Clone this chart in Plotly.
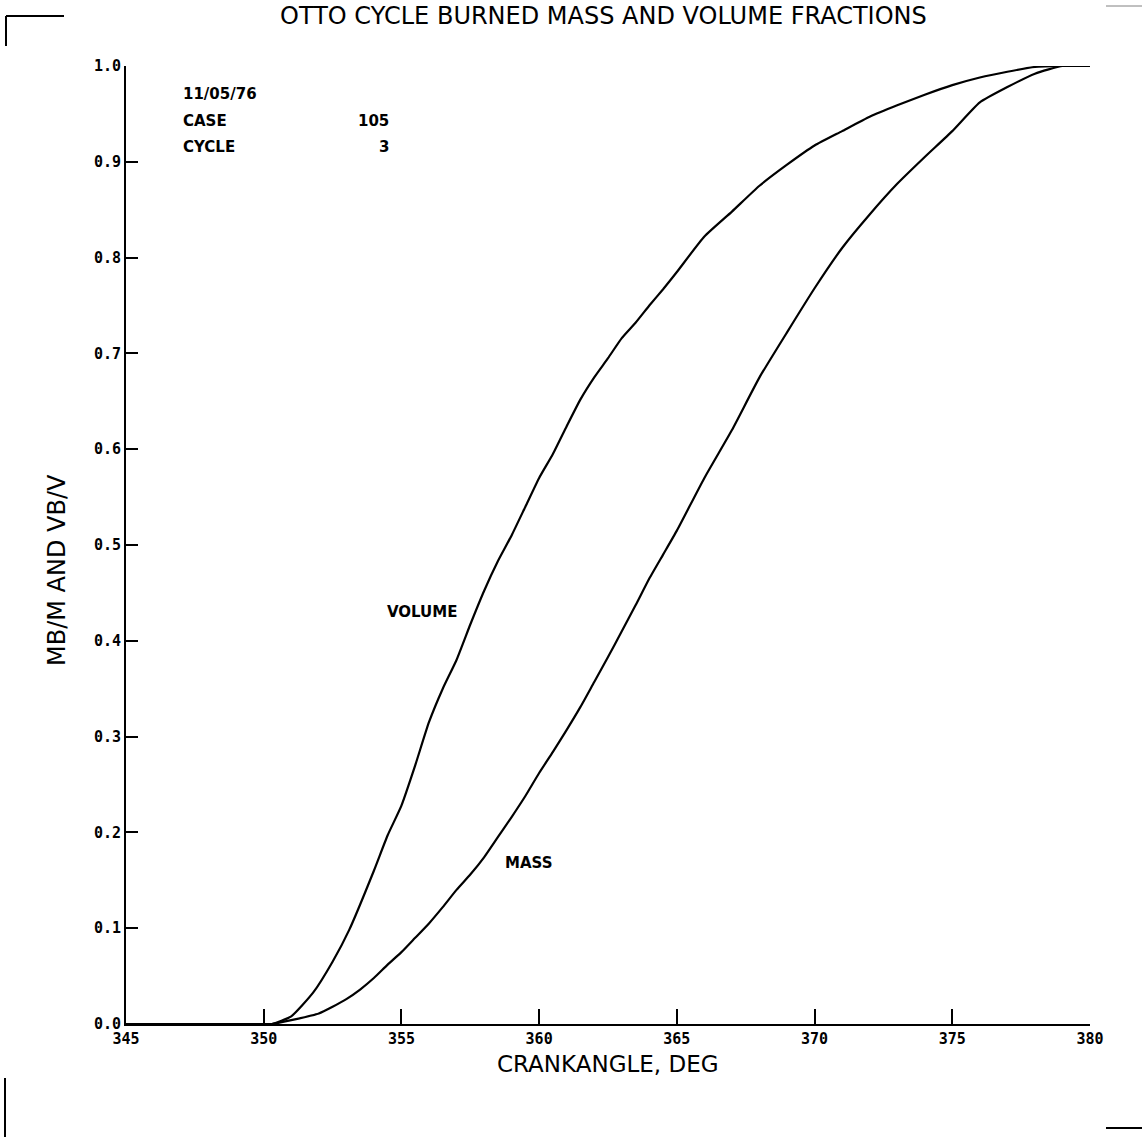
import plotly.graph_objects as go

# ---- data ----
angle_volume = [345, 350, 350.3, 351, 351.8, 352.5, 353.1, 354, 354.5, 355, 355.5, 356, 356.5,
                357, 357.5, 358, 358.5, 359, 359.5, 360, 360.5, 361, 361.5, 362, 362.5, 363,
                363.5, 364, 364.5, 365, 366, 367, 368, 369, 370, 371, 372, 373, 374, 375, 376,
                377, 378, 379, 380]
volume_fraction = [0, 0, 0, 0.008, 0.033, 0.065, 0.098, 0.16, 0.197, 0.228, 0.27, 0.315, 0.35,
                   0.38, 0.417, 0.452, 0.483, 0.51, 0.54, 0.57, 0.595, 0.624, 0.652, 0.675, 0.695,
                   0.716, 0.732, 0.75, 0.767, 0.785, 0.822, 0.848, 0.875, 0.897, 0.917, 0.932,
                   0.947, 0.959, 0.970, 0.980, 0.988, 0.994, 0.999, 1.0, 1.0]

angle_mass = [345, 350, 350.3, 351, 352, 352.5, 353, 353.5, 354, 354.5, 355, 355.5, 356, 356.5,
              357, 357.5, 358, 358.5, 359, 359.5, 360, 360.5, 361, 361.5, 362, 362.5, 363, 363.5,
              364, 364.5, 365, 366, 367, 368, 369, 370, 371, 372, 373, 374, 375, 376, 377, 378,
              379, 380]
mass_fraction = [0, 0, 0, 0.004, 0.011, 0.018, 0.026, 0.036, 0.048, 0.062, 0.075, 0.09, 0.105,
                 0.122, 0.14, 0.156, 0.174, 0.195, 0.216, 0.238, 0.262, 0.284, 0.307, 0.331,
                 0.357, 0.383, 0.41, 0.437, 0.465, 0.49, 0.515, 0.57, 0.62, 0.675, 0.722, 0.768,
                 0.81, 0.845, 0.877, 0.905, 0.932, 0.962, 0.978, 0.992, 1.0, 1.0]

x_ticks = [345, 350, 355, 360, 365, 370, 375, 380]
y_ticks = [0.0, 0.1, 0.2, 0.3, 0.4, 0.5, 0.6, 0.7, 0.8, 0.9, 1.0]

title_text = "OTTO CYCLE BURNED MASS AND VOLUME FRACTIONS"
x_title = "CRANKANGLE, DEG"
y_title = "MB/M AND VB/V"
info_lines = [("11/05/76", ""), ("CASE", "105"), ("CYCLE", "3")]
curve_labels = [("VOLUME", 355.75, 0.43), ("MASS", 359.6, 0.168)]

MONO = "DejaVu Sans Mono"
SANS = "DejaVu Sans"

fig = go.Figure()
fig.add_trace(go.Scatter(x=angle_volume, y=volume_fraction, mode="lines",
                         line=dict(color="black", width=2.2, shape="spline", smoothing=0.5),
                         name="VOLUME", showlegend=False))
fig.add_trace(go.Scatter(x=angle_mass, y=mass_fraction, mode="lines",
                         line=dict(color="black", width=2.2, shape="spline", smoothing=0.5),
                         name="MASS", showlegend=False))

W, H = 1142, 1137
L, R, T, B = 126, 52, 66, 113
PW, PH = W - L - R, H - T - B

def px(xp):
    return (xp - L) / PW

def py(yp):
    return (H - B - yp) / PH

annotations = []
info_y = [94, 121, 147]
for (left, right), yy in zip(info_lines, info_y):
    annotations.append(dict(text=left, x=px(181), y=py(yy), xref="paper", yref="paper",
                            xanchor="left", yanchor="middle", showarrow=False,
                            font=dict(family=SANS, size=15, color="black", weight="bold")))
    if right:
        annotations.append(dict(text=right, x=px(391), y=py(yy), xref="paper", yref="paper",
                                xanchor="right", yanchor="middle", showarrow=False,
                                font=dict(family=SANS, size=15, color="black", weight="bold")))

for txt, xv, yv in curve_labels:
    annotations.append(dict(text=txt, x=xv, y=yv, xref="x", yref="y", showarrow=False,
                            xanchor="center", yanchor="middle",
                            font=dict(family=SANS, size=15, color="black", weight="bold")))

annotations.append(dict(text=x_title, x=px(608), y=py(1064), xref="paper", yref="paper",
                        showarrow=False, xanchor="center", yanchor="middle",
                        font=dict(family=SANS, size=23, color="black")))
annotations.append(dict(text=y_title, x=px(57), y=py(570), xref="paper", yref="paper",
                        showarrow=False, xanchor="center", yanchor="middle", textangle=-90,
                        font=dict(family=SANS, size=24, color="black")))
annotations.append(dict(text=title_text, x=px(603), y=py(16), xref="paper", yref="paper",
                        showarrow=False, xanchor="center", yanchor="middle",
                        font=dict(family=SANS, size=24, color="black")))

# page registration marks of the scanned sheet
shapes = [
    dict(type="line", xref="paper", yref="paper", x0=px(6), y0=py(16), x1=px(64), y1=py(16),
         line=dict(color="black", width=2)),
    dict(type="line", xref="paper", yref="paper", x0=px(6), y0=py(16), x1=px(6), y1=py(46),
         line=dict(color="black", width=2)),
    dict(type="line", xref="paper", yref="paper", x0=px(5), y0=py(1078), x1=px(5), y1=py(1137),
         line=dict(color="black", width=2)),
    dict(type="line", xref="paper", yref="paper", x0=px(1106), y0=py(1128), x1=px(1142), y1=py(1128),
         line=dict(color="black", width=2)),
    dict(type="line", xref="paper", yref="paper", x0=px(1106), y0=py(6), x1=px(1142), y1=py(6),
         line=dict(color="gray", width=1)),
]

fig.update_layout(
    width=W, height=H,
    margin=dict(l=L, r=R, t=T, b=B),
    paper_bgcolor="white", plot_bgcolor="white",
    font=dict(family=SANS, color="black"),
    annotations=annotations,
    shapes=shapes,
    showlegend=False,
)
fig.update_xaxes(range=[345, 380], tickvals=x_ticks, ticktext=[str(v) for v in x_ticks],
                 ticks="inside", ticklen=15, tickwidth=2, tickcolor="black",
                 showline=True, linecolor="black", linewidth=2, showgrid=False, zeroline=False,
                 tickfont=dict(family=MONO, size=15, color="black", weight="bold"))
fig.update_yaxes(range=[0, 1.0], tickvals=y_ticks, ticktext=[f"{v:.1f}" for v in y_ticks],
                 ticks="inside", ticklen=12, tickwidth=2, tickcolor="black",
                 showline=True, linecolor="black", linewidth=2, showgrid=False, zeroline=False,
                 tickfont=dict(family=MONO, size=15, color="black", weight="bold"))

fig.write_html("out.html")
